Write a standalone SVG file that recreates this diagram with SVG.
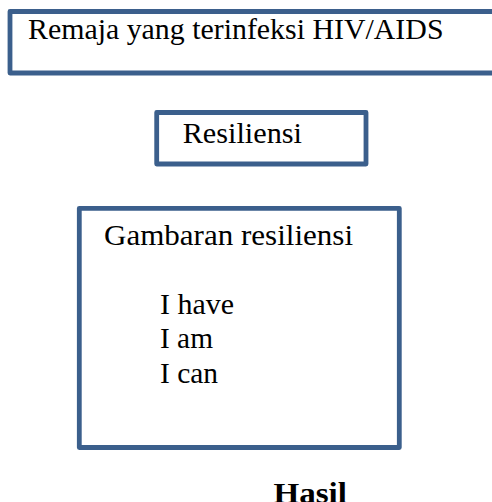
<svg xmlns="http://www.w3.org/2000/svg" width="492" height="502" viewBox="0 0 492 502">
<style>
.box{fill:#ffffff;stroke:#3b5f8c;stroke-width:4.8;stroke-linejoin:round}
.t{font-family:"Liberation Serif","DejaVu Serif",serif;font-size:30px;fill:#000000}
.b{font-weight:bold}
</style>
<rect width="492" height="502" fill="#ffffff"/>
<g id="connectors"></g>
<g id="node-remaja">
<rect class="box" x="10" y="11.5" width="500" height="61.5"/>
<text class="t" x="28" y="39.3" textLength="415.5" lengthAdjust="spacingAndGlyphs">Remaja yang terinfeksi HIV/AIDS</text>
</g>
<g id="node-resiliensi">
<rect class="box" x="156.7" y="112.5" width="209.3" height="51.5"/>
<text class="t" x="182.7" y="142.7" textLength="119.3" lengthAdjust="spacingAndGlyphs">Resiliensi</text>
</g>
<g id="node-gambaran">
<rect class="box" x="79.3" y="208.3" width="320" height="239.2"/>
<text class="t" x="104" y="244.8" textLength="249" lengthAdjust="spacingAndGlyphs">Gambaran resiliensi</text>
<text class="t" x="160" y="314" textLength="74" lengthAdjust="spacingAndGlyphs">I have</text>
<text class="t" x="160" y="347.5" textLength="53" lengthAdjust="spacingAndGlyphs">I am</text>
<text class="t" x="160" y="382.7" textLength="58" lengthAdjust="spacingAndGlyphs">I can</text>
</g>
<g id="node-hasil">
<text class="t b" x="273.5" y="503" textLength="73.5" lengthAdjust="spacingAndGlyphs">Hasil</text>
</g>
</svg>
